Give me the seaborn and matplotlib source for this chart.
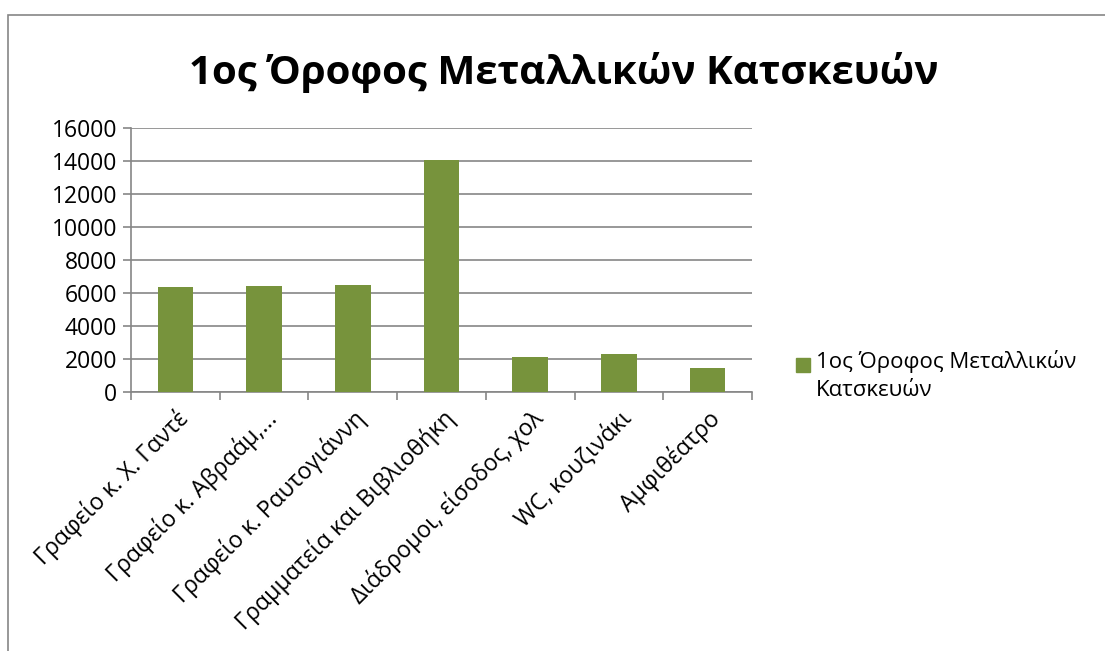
import matplotlib
matplotlib.use("Agg")
import matplotlib.pyplot as plt
from matplotlib.patches import Rectangle
import seaborn as sns
import pandas as pd

title = "1ος Όροφος Μεταλλικών Κατσκευών"
series_name = "1ος Όροφος Μεταλλικών\nΚατσκευών"
categories = [
    "Γραφείο κ. Χ. Γαντέ",
    "Γραφείο κ. Αβραάμ,...",
    "Γραφείο κ. Ραυτογιάννη",
    "Γραμματεία και Βιβλιοθήκη",
    "Διάδρομοι, είσοδος, χολ",
    "WC, κουζινάκι",
    "Αμφιθέατρο",
]
values = [6350, 6430, 6500, 14050, 2100, 2300, 1450]
y_ticks = [0, 2000, 4000, 6000, 8000, 10000, 12000, 14000, 16000]

bar_color = "#77933C"
axis_color = "#868686"

sns.set_theme(style="white")
plt.rcParams["font.family"] = ["Open Sans", "DejaVu Sans"]
plt.rcParams["text.color"] = "black"
plt.rcParams["xtick.color"] = "black"
plt.rcParams["ytick.color"] = "black"

df = pd.DataFrame({"category": categories, "value": values})

fig = plt.figure(figsize=(11.05, 6.51), dpi=100)
ax = fig.add_axes([0.1186, 0.3978, 0.5619, 0.4056])

sns.barplot(data=df, x="category", y="value", color=bar_color, width=0.4,
            saturation=1, linewidth=0, ax=ax, zorder=3)

ax.set_ylim(0, 16000)
ax.set_xlim(-0.5, len(categories) - 0.5)
ax.set_yticks(y_ticks)
ax.set_yticklabels([str(v) for v in y_ticks], fontsize=16.5)
ax.yaxis.grid(True, color=axis_color, linewidth=1.2, zorder=0)
ax.set_axisbelow(True)
ax.set_xlabel("")
ax.set_ylabel("")

for side in ["top", "right"]:
    ax.spines[side].set_visible(False)
for side in ["left", "bottom"]:
    ax.spines[side].set_color(axis_color)
    ax.spines[side].set_linewidth(1.2)

# category boundary ticks on x, outward ticks on y
ax.set_xticks([i for i in range(len(categories))])
ax.set_xticklabels(categories, rotation=45, ha="right", rotation_mode="anchor",
                   fontsize=16.7)
ax.tick_params(axis="x", length=0, pad=10)
ax.set_xticks([i - 0.5 for i in range(len(categories) + 1)], minor=True)
ax.tick_params(axis="x", which="minor", length=6, width=1.2, color=axis_color,
               direction="out", bottom=True)
ax.tick_params(axis="y", length=6, width=1.2, color=axis_color,
               labelcolor="black", direction="out", left=True, pad=4)

fig.text(0.51, 0.888, title, ha="center", va="center", fontsize=29,
         fontweight="bold")

# legend
fig.patches.append(Rectangle((796 / 1105, 1 - 372 / 651), 14 / 1105, 14 / 651,
                             transform=fig.transFigure, color=bar_color))
fig.text(816 / 1105, 1 - 350 / 651, series_name, ha="left", va="top",
         fontsize=16, linespacing=1.45)

# chart area border
fig.patches.append(Rectangle((8 / 1105, -0.05), 1.2, 1 - 15 / 651 + 0.05,
                             transform=fig.transFigure, fill=False,
                             edgecolor=axis_color, linewidth=1.2))

fig.savefig("out.png", dpi=100, facecolor="white")
